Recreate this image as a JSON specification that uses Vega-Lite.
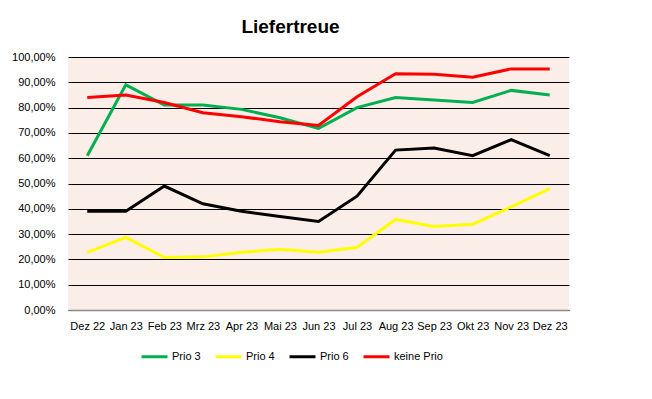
{
  "$schema": "https://vega.github.io/schema/vega-lite/v6.json",
  "autosize": {"type": "none"},
  "width": 501,
  "height": 253,
  "padding": {"left": 68, "top": 57, "right": 83, "bottom": 89},
  "background": "white",
  "title": {
    "text": "Liefertreue",
    "font": "Liberation Sans",
    "fontSize": 19,
    "fontWeight": "bold",
    "color": "#000000",
    "anchor": "middle",
    "dx": -28,
    "offset": 14
  },
  "data": {
    "values": [
      {"month": "Dez 22", "series": "Prio 3", "value": 0.61},
      {"month": "Jan 23", "series": "Prio 3", "value": 0.89},
      {"month": "Feb 23", "series": "Prio 3", "value": 0.81},
      {"month": "Mrz 23", "series": "Prio 3", "value": 0.81},
      {"month": "Apr 23", "series": "Prio 3", "value": 0.793},
      {"month": "Mai 23", "series": "Prio 3", "value": 0.76},
      {"month": "Jun 23", "series": "Prio 3", "value": 0.718},
      {"month": "Jul 23", "series": "Prio 3", "value": 0.80},
      {"month": "Aug 23", "series": "Prio 3", "value": 0.84},
      {"month": "Sep 23", "series": "Prio 3", "value": 0.83},
      {"month": "Okt 23", "series": "Prio 3", "value": 0.82},
      {"month": "Nov 23", "series": "Prio 3", "value": 0.868},
      {"month": "Dez 23", "series": "Prio 3", "value": 0.85},

      {"month": "Dez 22", "series": "Prio 4", "value": 0.228},
      {"month": "Jan 23", "series": "Prio 4", "value": 0.287},
      {"month": "Feb 23", "series": "Prio 4", "value": 0.208},
      {"month": "Mrz 23", "series": "Prio 4", "value": 0.21},
      {"month": "Apr 23", "series": "Prio 4", "value": 0.228},
      {"month": "Mai 23", "series": "Prio 4", "value": 0.24},
      {"month": "Jun 23", "series": "Prio 4", "value": 0.228},
      {"month": "Jul 23", "series": "Prio 4", "value": 0.248},
      {"month": "Aug 23", "series": "Prio 4", "value": 0.358},
      {"month": "Sep 23", "series": "Prio 4", "value": 0.33},
      {"month": "Okt 23", "series": "Prio 4", "value": 0.339},
      {"month": "Nov 23", "series": "Prio 4", "value": 0.408},
      {"month": "Dez 23", "series": "Prio 4", "value": 0.48},

      {"month": "Dez 22", "series": "Prio 6", "value": 0.39},
      {"month": "Jan 23", "series": "Prio 6", "value": 0.39},
      {"month": "Feb 23", "series": "Prio 6", "value": 0.49},
      {"month": "Mrz 23", "series": "Prio 6", "value": 0.42},
      {"month": "Apr 23", "series": "Prio 6", "value": 0.39},
      {"month": "Mai 23", "series": "Prio 6", "value": 0.37},
      {"month": "Jun 23", "series": "Prio 6", "value": 0.35},
      {"month": "Jul 23", "series": "Prio 6", "value": 0.45},
      {"month": "Aug 23", "series": "Prio 6", "value": 0.632},
      {"month": "Sep 23", "series": "Prio 6", "value": 0.64},
      {"month": "Okt 23", "series": "Prio 6", "value": 0.61},
      {"month": "Nov 23", "series": "Prio 6", "value": 0.673},
      {"month": "Dez 23", "series": "Prio 6", "value": 0.61},

      {"month": "Dez 22", "series": "keine Prio", "value": 0.84},
      {"month": "Jan 23", "series": "keine Prio", "value": 0.85},
      {"month": "Feb 23", "series": "keine Prio", "value": 0.82},
      {"month": "Mrz 23", "series": "keine Prio", "value": 0.78},
      {"month": "Apr 23", "series": "keine Prio", "value": 0.764},
      {"month": "Mai 23", "series": "keine Prio", "value": 0.744},
      {"month": "Jun 23", "series": "keine Prio", "value": 0.729},
      {"month": "Jul 23", "series": "keine Prio", "value": 0.843},
      {"month": "Aug 23", "series": "keine Prio", "value": 0.934},
      {"month": "Sep 23", "series": "keine Prio", "value": 0.932},
      {"month": "Okt 23", "series": "keine Prio", "value": 0.92},
      {"month": "Nov 23", "series": "keine Prio", "value": 0.953},
      {"month": "Dez 23", "series": "keine Prio", "value": 0.953}
    ]
  },
  "mark": {"type": "line", "strokeWidth": 3, "interpolate": "linear"},
  "encoding": {
    "x": {
      "field": "month",
      "type": "ordinal",
      "sort": null,
      "scale": {"type": "point", "padding": 0.5},
      "axis": {
        "title": null,
        "labelAngle": 0,
        "labelOverlap": false,
        "ticks": false,
        "labelPadding": 10,
        "labelFont": "Liberation Sans",
        "labelFontSize": 11,
        "labelColor": "#000000",
        "domainColor": "#888888",
        "domainWidth": 1.5,
        "grid": false
      }
    },
    "y": {
      "field": "value",
      "type": "quantitative",
      "scale": {"domain": [0, 1], "nice": false},
      "axis": {
        "title": null,
        "values": [0, 0.1, 0.2, 0.3, 0.4, 0.5, 0.6, 0.7, 0.8, 0.9, 1],
        "labelExpr": "replace(format(datum.value, '.2%'), '.', ',')",
        "domain": false,
        "ticks": false,
        "labelPadding": 13,
        "labelFont": "Liberation Sans",
        "labelFontSize": 11,
        "labelColor": "#000000",
        "grid": true,
        "gridColor": "#000000",
        "gridWidth": 1,
        "gridOpacity": 1
      }
    },
    "color": {
      "field": "series",
      "type": "nominal",
      "scale": {
        "domain": ["Prio 3", "Prio 4", "Prio 6", "keine Prio"],
        "range": ["#00B050", "#FFFF00", "#000000", "#FF0000"]
      },
      "legend": {
        "title": null,
        "orient": "none",
        "direction": "horizontal",
        "legendX": 72,
        "legendY": 285,
        "symbolType": "stroke",
        "symbolSize": 676,
        "symbolStrokeWidth": 3,
        "labelOffset": 3,
        "columnPadding": 8,
        "labelFont": "Liberation Sans",
        "labelFontSize": 11,
        "labelColor": "#000000"
      }
    }
  },
  "config": {
    "view": {"fill": "#FBEEE9", "stroke": null}
  }
}
